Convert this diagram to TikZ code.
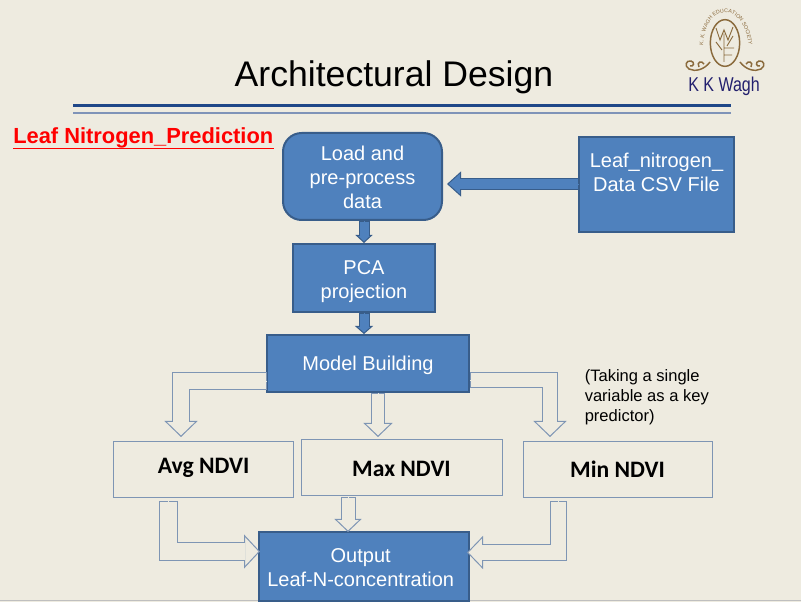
\documentclass[tikz,border=0pt]{standalone}
\usepackage{fontspec}
\setmainfont{Liberation Sans}
\newfontfamily\calibrifont{Carlito}
\usetikzlibrary{arrows.meta,decorations.text,shapes.geometric}
\definecolor{paper}{HTML}{EEEBE0}
\definecolor{boxblue}{HTML}{4F81BD}
\definecolor{boxedge}{HTML}{385D8A}
\definecolor{thinedge}{HTML}{7E95B4}
\definecolor{ruledark}{HTML}{1F4788}
\definecolor{rulelight}{HTML}{7F93B8}
\definecolor{logobrown}{HTML}{8A6A3C}
\definecolor{logonavy}{HTML}{23206E}
\newcommand{\nudge}[3]{\hspace*{#1pt}\raisebox{#2pt}[\height][\depth]{#3}}

\begin{document}
\begin{tikzpicture}[x=0.75pt,y=-0.75pt,
    boxsize/.style n args={2}{minimum width=#1*0.75pt,minimum height=#2*0.75pt},
    blue box/.style={draw=boxedge,line width=1.5pt,fill=boxblue,text=white,align=center,inner sep=0pt,font=\fontsize{15}{18}\selectfont},
    plain box/.style={draw=thinedge,line width=0.7pt,fill=paper,align=center,inner sep=0pt,font=\calibrifont\bfseries\fontsize{17.7}{20}\selectfont},
    block arrow/.style n args={6}{draw=#1,line width=#3*0.75pt+1.5pt,shorten >=#5*0.75pt,
        postaction={draw=#2,line width=0.2pt,shorten >=0pt,
            -{Triangle[length=#5*0.75pt,width=#4*0.75pt,fill=#2,color=#1,line width=#6]}},
        postaction={draw=#2,line width=#3*0.75pt,shorten >=#5*0.75pt-1pt,shorten <=#6}},
    solid arrow/.style n args={3}{block arrow={boxedge}{boxblue}{#1}{#2}{#3}{0.75pt}},
    hollow arrow/.style n args={3}{block arrow={thinedge}{paper}{#1}{#2}{#3}{0.75pt}}]

    \useasboundingbox (0,0) rectangle (801,602);
    \fill[paper] (0,0) rectangle (801,602);
    \draw[gray!50,line width=1pt] (0,600.5) -- (801,600.5);

    \node (title) at (394,77) {\fontsize{26.7}{32}\selectfont Architectural Design};
    \coordinate (ruleL) at (73,105.5);
    \coordinate (ruleR) at (731,105.5);
    \draw[ruledark,line width=2.4pt] (ruleL) -- (ruleR);
    \draw[rulelight,line width=1.6pt] ([yshift=-5.6pt]ruleL) -- ([yshift=-5.6pt]ruleR);

    \node[anchor=west,inner sep=0pt,text=red] (heading) at (13,138) {\fontsize{16.4}{18}\selectfont\bfseries Leaf Nitrogen\_Prediction};
    \draw[red,line width=1.4pt] (heading.south west) -- (heading.south east);

    \node[blue box,boxsize={159}{87},rounded corners=14pt] (load) at (362.5,176.5) {\nudge{0}{-0.7}{Load and}\\\nudge{0}{-0.7}{pre-process}\\\nudge{0}{-0.7}{data}};
    \node[blue box,boxsize={155}{95}] (file) at (656.5,184.5) {Leaf\_nitrogen\_\\Data CSV File\\~};
    \node[blue box,boxsize={142}{68}] (pca) at (364,278) {\nudge{0}{-3}{PCA}\\\nudge{0}{-3}{projection}};
    \node[blue box,boxsize={202}{57}] (model) at (368,363.5) {\nudge{0}{-1.5}{Model Building}};
    \node[plain box,boxsize={180}{56}] (avg) at (203,469) {\nudge{1}{1}{Avg NDVI}};
    \node[plain box,boxsize={201}{56}] (max) at (401.5,467) {\nudge{0}{-1.5}{Max NDVI}};
    \node[plain box,boxsize={189}{56}] (min) at (617.5,469) {Min NDVI};
    \node[blue box,boxsize={210}{69}] (output) at (364,566.5) {\nudge{-5}{-0.7}{Output}\\\nudge{-5}{-0.7}{Leaf-N-concentration}};
    \node[anchor=north west,inner sep=0pt,align=left,font=\fontsize{12.4}{15}\selectfont] (note) at (584.5,369) {(Taking a single\\variable as a key\\predictor)};

    \coordinate (fileout) at (579,184);
    \coordinate (loadin) at (447,184);
    \coordinate (modelL) at (267,381);
    \coordinate (avgin) at (181,437);
    \coordinate (modelM) at (378,393);
    \coordinate (maxin) at (378,437);
    \coordinate (modelR) at (470,380);
    \coordinate (minin) at (550,437);
    \coordinate (avgout) at (168,501);
    \coordinate (outL) at (260,551.5);
    \coordinate (maxout) at (348,497);
    \coordinate (outM) at (348,532);
    \coordinate (minout) at (558.5,501);
    \coordinate (outR) at (467,552.5);

    \draw[solid arrow={10}{25}{14}] (fileout) -- (loadin);
    \draw[solid arrow={9}{17}{8}] (pca.north |- load.south) -- (pca.north);
    \draw[solid arrow={9}{18}{8}] (pca.south) -- (pca.south |- model.north);

    \draw[hollow arrow={16}{33}{16}] (modelL) -| (avgin);
    \draw[hollow arrow={12}{29}{14}] (modelM) -- (maxin);
    \draw[hollow arrow={14}{33}{16}] (modelR) -| (minin);
    \draw[hollow arrow={17}{34}{16}] (avgout) |- (outL);
    \draw[hollow arrow={13}{27}{13}] (maxout) -- (outM);
    \draw[hollow arrow={15}{33}{16}] (minout) |- (outR);

    \node[draw=logobrown,ellipse,line width=1.1pt,minimum width=22pt,minimum height=35pt,inner sep=0pt] (seal) at (725,43) {};
    \draw[logobrown,line width=0.7pt] (716,28) -- (720,40) -- (724,30) -- (728,40) -- (733,27) (724,34) -- (724,62)
        (724,48) -- (734,48) (724,55) -- (732,55) (716,42) -- (722,50) (733,36) -- (727,46);
    \path[decorate,decoration={text along path,text align=center,
        text={|\fontsize{4}{5}\selectfont\color{logobrown}|K. K. WAGH EDUCATION SOCIETY}}]
        (703,50) .. controls (703,0) and (747,0) .. (749,50);
    \draw[logobrown,line width=1.1pt] (710,62) .. controls (704,70) and (695,72) .. (689,69)
        .. controls (684,66) and (686,60) .. (691,61) .. controls (695,62) and (694,67) .. (690,66)
        (699,67) .. controls (696,62) and (702,60) .. (704,64);
    \draw[logobrown,line width=1.1pt] (740,62) .. controls (746,70) and (755,72) .. (761,69)
        .. controls (766,66) and (764,60) .. (759,61) .. controls (755,62) and (756,67) .. (760,66)
        (751,67) .. controls (754,62) and (748,60) .. (746,64);
    \node[logonavy,font=\fontsize{15}{16}\selectfont,inner sep=0pt,xscale=0.8] (wagh) at (724,86) {K K Wagh};
\end{tikzpicture}
\end{document}
